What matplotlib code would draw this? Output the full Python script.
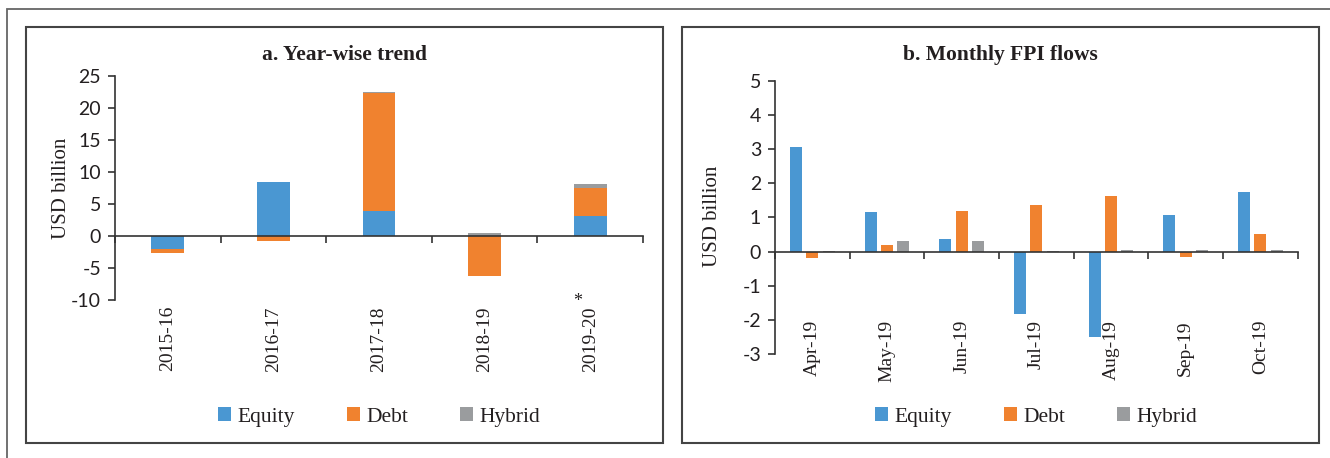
import numpy as np
import matplotlib
matplotlib.use('Agg')
import matplotlib.pyplot as plt
from matplotlib.patches import Rectangle
from matplotlib.transforms import blended_transform_factory

plt.rcParams['axes.unicode_minus'] = False

# ---------------------------------------------------------------------
#   data (USD billion)
# ---------------------------------------------------------------------
years = ['2015-16', '2016-17', '2017-18', '2018-19', '2019-20*']
year_equity = [-2.07, 8.4, 3.9, 0.0, 3.1]
year_debt = [-0.57, -0.83, 18.4, -6.2, 4.37]
year_hybrid = [0.0, 0.0, 0.2, 0.5, 0.73]

months = ['Apr-19', 'May-19', 'Jun-19', 'Jul-19', 'Aug-19', 'Sep-19', 'Oct-19']
month_equity = [3.07, 1.15, 0.38, -1.82, -2.51, 1.07, 1.75]
month_debt = [-0.2, 0.18, 1.2, 1.37, 1.63, -0.16, 0.51]
month_hybrid = [0.02, 0.3, 0.3, 0.02, 0.05, 0.05, 0.05]

series_names = ['Equity', 'Debt', 'Hybrid']
colors = ['#4a97d2', '#f0822f', '#9a9c9e']

SERIF = 'Liberation Serif'
SANS = 'Lato'
TXT = '#231f20'
W, H = 1330, 458

fig = plt.figure(figsize=(W / 100, H / 100), dpi=100)


def fx(px):
    return px / W


def fy(py):
    return 1 - py / H


def style_axes(ax, n, ylo, yhi, step):
    ax.set_xlim(-0.5, n - 0.5)
    ax.set_ylim(ylo, yhi)
    ax.set_yticks(np.arange(ylo, yhi + step / 2, step))
    for s in ['top', 'right']:
        ax.spines[s].set_visible(False)
    ax.spines['bottom'].set_position(('data', 0))
    ax.spines['bottom'].set_color('#333333')
    ax.spines['bottom'].set_linewidth(1.2)
    ax.spines['left'].set_color('#333333')
    ax.spines['left'].set_linewidth(1.2)
    ax.set_xticks(np.arange(n + 1) - 0.5)
    ax.set_xticklabels([])
    ax.tick_params(axis='x', length=5, width=1.2, color='#333333', direction='out')
    ax.tick_params(axis='y', length=5, width=1.2, color='#333333', pad=5,
                   labelsize=14, labelcolor=TXT)
    for lab in ax.get_yticklabels():
        lab.set_family(SANS)
    ax.set_facecolor('none')


def cat_labels(ax, labels, top_px):
    tr = blended_transform_factory(ax.transData, fig.transFigure)
    for i, lab in enumerate(labels):
        star = lab.endswith('*')
        txt = lab.rstrip('*')
        ax.text(i, fy(top_px), txt, rotation=90, ha='center', va='top',
                family=SERIF, fontsize=14, color=TXT, transform=tr)
        if star:
            ax.text(i - 0.12, fy(top_px - 4), '*', ha='center', va='center',
                    family=SERIF, fontsize=13, color=TXT, transform=tr)


def add_legend(ax, handles, cx_px):
    ax.legend(handles=handles, loc='center', bbox_to_anchor=(fx(cx_px), fy(417)),
              bbox_transform=fig.transFigure, ncol=3, frameon=False,
              prop={'family': SERIF, 'size': 15.5}, handlelength=0.6, handleheight=0.6,
              handletextpad=0.3, columnspacing=2.4, labelcolor=TXT)


# ---------------------------------------------------------------------
#   a. Year-wise trend (stacked)
# ---------------------------------------------------------------------
ax1 = fig.add_axes([fx(115), fy(300.3), fx(643 - 115), (300.3 - 75.7) / H])
x = np.arange(len(years))
pos = np.zeros(len(years))
neg = np.zeros(len(years))
handles = []
for vals, name, c in zip([year_equity, year_debt, year_hybrid], series_names, colors):
    v = np.array(vals)
    bottom = np.where(v >= 0, pos, neg)
    b = ax1.bar(x, v, 0.31, bottom=bottom, color=c, label=name, zorder=2)
    handles.append(b)
    pos += np.where(v >= 0, v, 0)
    neg += np.where(v < 0, v, 0)
style_axes(ax1, len(years), -10, 25, 5)
cat_labels(ax1, years, 306)
add_legend(ax1, handles, 379)

# ---------------------------------------------------------------------
#   b. Monthly FPI flows (clustered)
# ---------------------------------------------------------------------
ax2 = fig.add_axes([fx(775), fy(354), fx(1297.7 - 775), (354 - 80.7) / H])
x = np.arange(len(months))
handles = []
for k, (vals, name, c) in enumerate(zip([month_equity, month_debt, month_hybrid],
                                        series_names, colors)):
    b = ax2.bar(x + (k - 1) * 0.22, vals, 0.16, color=c, label=name, zorder=2)
    handles.append(b)
style_axes(ax2, len(months), -3, 5, 1)
cat_labels(ax2, months, 320)
add_legend(ax2, handles, 1036)

# ---------------------------------------------------------------------
#   titles, axis titles, frames
# ---------------------------------------------------------------------
fig.text(fx(344), fy(55), 'a. Year-wise trend', ha='center', va='center',
         family=SERIF, fontsize=15.5, fontweight='bold', color=TXT)
fig.text(fx(1000.5), fy(55), 'b. Monthly FPI flows', ha='center', va='center',
         family=SERIF, fontsize=15.5, fontweight='bold', color=TXT)
fig.text(fx(62), fy(188), 'USD billion', rotation=90, ha='center', va='center',
         family=SERIF, fontsize=15, color=TXT)
fig.text(fx(713), fy(216), 'USD billion', rotation=90, ha='center', va='center',
         family=SERIF, fontsize=15, color=TXT)

for x0, x1 in [(25.7, 662.7), (682, 1319)]:
    fig.patches.append(Rectangle((fx(x0), fy(442.7)), fx(x1 - x0), (442.7 - 27.3) / H,
                                 transform=fig.transFigure, fill=False,
                                 edgecolor='#444444', linewidth=1.5))
fig.patches.append(Rectangle((fx(6.7), fy(480)), fx(1340), (480 - 9) / H,
                             transform=fig.transFigure, fill=False,
                             edgecolor='#666666', linewidth=1.3))

fig.savefig('out.png', dpi=100)
